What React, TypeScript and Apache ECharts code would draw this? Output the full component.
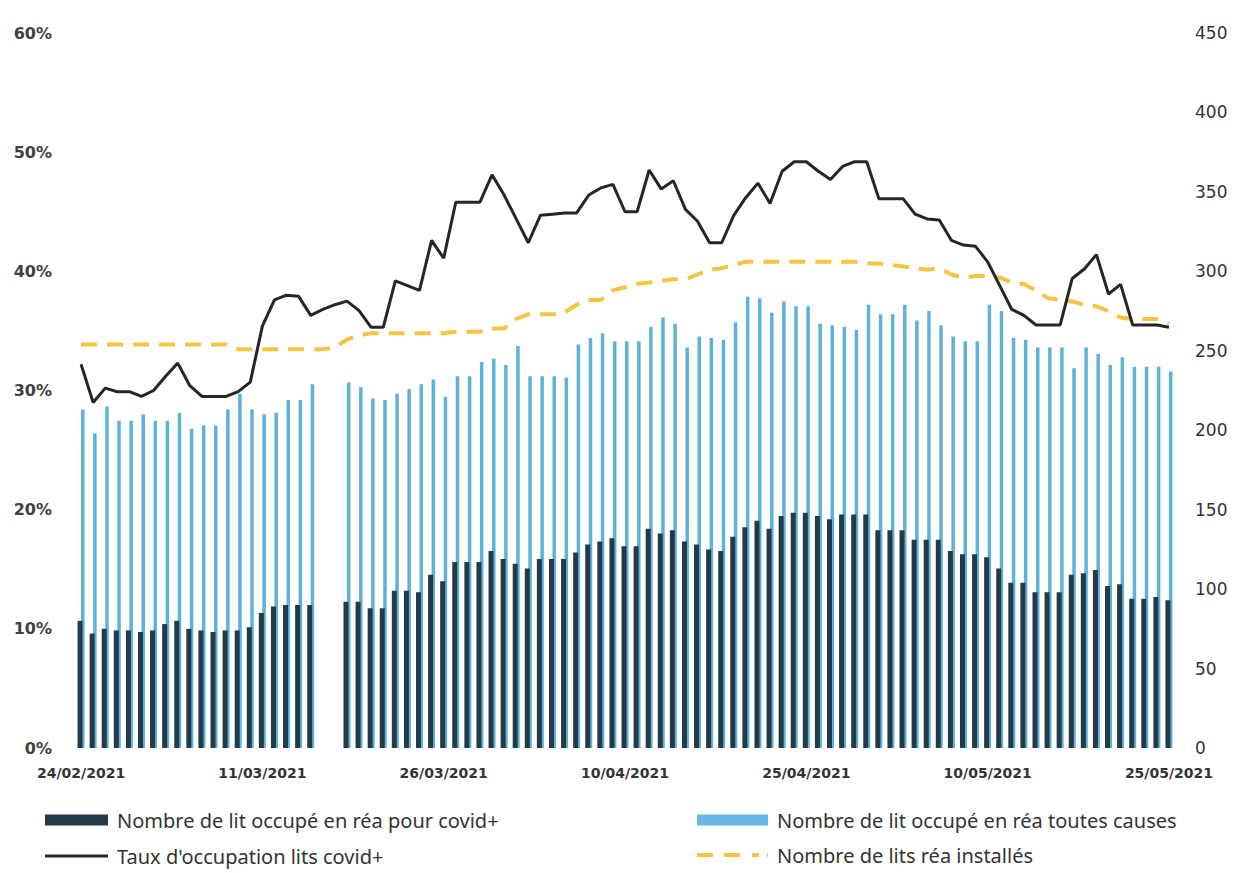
import { useEffect, useRef } from "react";
import * as echarts from "echarts";

// Categories: every day from 24/02/2021 to 25/05/2021 (91 days)
const startDay = Date.UTC(2021, 1, 24);
const categories: string[] = Array.from({ length: 91 }, (_, i) => {
  const d = new Date(startDay + i * 86400000);
  const dd = String(d.getUTCDate()).padStart(2, "0");
  const mm = String(d.getUTCMonth() + 1).padStart(2, "0");
  return `${dd}/${mm}/${d.getUTCFullYear()}`;
});

const covidName = "Nombre de lit occupé en réa pour covid+";
const allName = "Nombre de lit occupé en réa toutes causes";
const rateName = "Taux d'occupation lits covid+";
const installedName = "Nombre de lits réa installés";

// Beds occupied in ICU for covid+ (right axis)
const covidBeds: (number | null)[] = [
  80, 72, 75, 74, 74, 73, 74, 78, 80, 75,
  74, 73, 74, 74, 76, 85, 89, 90, 90, 90,
  null, null, 92, 92, 88, 88, 99, 99, 98, 109,
  105, 117, 117, 117, 124, 119, 116, 113, 119, 119,
  119, 123, 128, 130, 132, 127, 127, 138, 135, 137,
  130, 128, 125, 124, 133, 139, 143, 138, 146, 148,
  148, 146, 144, 147, 147, 147, 137, 137, 137, 131,
  131, 131, 124, 122, 122, 120, 113, 104, 104, 98,
  98, 98, 109, 110, 112, 102, 103, 94, 94, 95,
  93,
];

// Beds occupied in ICU, all causes (right axis)
const allBeds: (number | null)[] = [
  213, 198, 215, 206, 206, 210, 206, 206, 211, 201,
  203, 203, 213, 223, 213, 210, 211, 219, 219, 229,
  null, null, 230, 227, 220, 219, 223, 226, 229, 232,
  221, 234, 234, 243, 245, 241, 253, 234, 234, 234,
  233, 254, 258, 261, 256, 256, 256, 265, 271, 267,
  252, 259, 258, 257, 268, 284, 283, 274, 281, 278,
  278, 267, 266, 265, 263, 279, 273, 273, 279, 269,
  275, 266, 259, 256, 256, 279, 275, 258, 257, 252,
  252, 252, 239, 252, 248, 241, 246, 240, 240, 240,
  237,
];

// Occupancy rate of covid+ beds, % (left axis)
const occupancyRate: number[] = [
  32.2, 29.0, 30.2, 29.9, 29.9, 29.5, 30.0, 31.2, 32.3, 30.4,
  29.5, 29.5, 29.5, 29.9, 30.7, 35.4, 37.6, 38.0, 37.9, 36.3,
  36.8, 37.2, 37.5, 36.7, 35.3, 35.3, 39.2, 38.8, 38.4, 42.6,
  41.1, 45.8, 45.8, 45.8, 48.1, 46.4, 44.4, 42.4, 44.7, 44.8,
  44.9, 44.9, 46.4, 47.0, 47.3, 45.0, 45.0, 48.5, 46.9, 47.6,
  45.2, 44.2, 42.4, 42.4, 44.7, 46.2, 47.4, 45.7, 48.4, 49.2,
  49.2, 48.4, 47.7, 48.8, 49.2, 49.2, 46.1, 46.1, 46.1, 44.8,
  44.4, 44.3, 42.6, 42.2, 42.1, 40.8, 38.8, 36.8, 36.3, 35.5,
  35.5, 35.5, 39.4, 40.2, 41.4, 38.1, 38.9, 35.5, 35.5, 35.5,
  35.3,
];

// Installed ICU beds (right axis)
const installedBeds: number[] = [
  254, 254, 254, 254, 254, 254, 254, 254, 254, 254,
  254, 254, 254, 251, 251, 251, 251, 251, 251, 251,
  251, 252, 257, 260, 261, 261, 261, 261, 261, 261,
  261, 262, 262, 262, 264, 264, 270, 273, 273, 273,
  274, 279, 282, 282, 288, 290, 292, 293, 294, 295,
  295, 298, 301, 302, 304, 306, 306, 306, 306, 306,
  306, 306, 306, 306, 306, 305, 305, 304, 303, 302,
  301, 302, 298, 296, 297, 297, 296, 293, 292, 288,
  283, 282, 281, 279, 278, 275, 271, 270, 270, 270,
  267,
];

const leftTicks = { min: 0, max: 60, interval: 10 };
const rightTicks = { min: 0, max: 450, interval: 50 };

const legendText = {
  fontFamily: "Noto Sans",
  fontSize: 20,
  color: "#333333",
  padding: [0, 0, 0, 4],
};

const dashedIcon =
  "path://M0,0h16v4h-16zM27,0h16v4h-16zM55,0h7v4h-7zM70,0h1v4h-1z";

export default function App() {
  const ref = useRef<HTMLDivElement>(null);

  useEffect(() => {
    if (!ref.current) return;
    const chart = echarts.init(ref.current, undefined, { renderer: "svg" });
    chart.setOption({
      animation: false,
      backgroundColor: "#ffffff",
      grid: { left: 75, right: 73, top: 33, bottom: 125, containLabel: false },
      xAxis: {
        type: "category",
        data: categories,
        boundaryGap: true,
        axisLine: { show: false },
        axisTick: { show: false },
        axisLabel: {
          interval: 14,
          margin: 18,
          fontFamily: "DejaVu Sans",
          fontWeight: "bold",
          fontSize: 14,
          color: "#333333",
        },
      },
      yAxis: [
        {
          type: "value",
          position: "left",
          ...leftTicks,
          splitLine: { show: false },
          axisLine: { show: false },
          axisTick: { show: false },
          axisLabel: {
            formatter: "{value}%",
            margin: 23,
            fontFamily: "DejaVu Sans",
            fontWeight: "bold",
            fontSize: 16,
            color: "#404040",
            padding: [0, 0, 12, 0],
          },
        },
        {
          type: "value",
          position: "right",
          ...rightTicks,
          splitLine: { show: false },
          axisLine: { show: false },
          axisTick: { show: false },
          axisLabel: {
            margin: 20,
            fontFamily: "DejaVu Sans",
            fontSize: 17,
            color: "#333333",
            padding: [0, 0, 12, 0],
          },
        },
      ],
      legend: [
        {
          data: [{ name: covidName, icon: "rect" }],
          left: 45, top: 810, padding: 0,
          itemWidth: 63, itemHeight: 11,
          textStyle: legendText,
        },
        {
          data: [{ name: allName, icon: "rect", itemStyle: { color: "#6ab6e6" } }],
          left: 697, top: 810, padding: 0,
          itemWidth: 71, itemHeight: 11,
          textStyle: legendText,
        },
        {
          data: [{ name: rateName, icon: "rect" }],
          left: 45, top: 846, padding: 0,
          itemWidth: 63, itemHeight: 3,
          textStyle: legendText,
        },
        {
          data: [{ name: installedName, icon: dashedIcon }],
          left: 697, top: 845, padding: 0,
          itemWidth: 71, itemHeight: 4,
          textStyle: legendText,
        },
      ],
      series: [
        {
          name: covidName,
          type: "bar",
          yAxisIndex: 1,
          data: covidBeds,
          barWidth: 5,
          barGap: "-30%",
          itemStyle: { color: "#233a48" },
          z: 3,
        },
        {
          name: allName,
          type: "bar",
          yAxisIndex: 1,
          data: allBeds,
          barWidth: 3.5,
          barGap: "-30%",
          itemStyle: { color: "#5db2da" },
          z: 2,
        },
        {
          name: installedName,
          type: "line",
          yAxisIndex: 1,
          data: installedBeds,
          symbol: "none",
          lineStyle: { color: "#f6c343", width: 4, type: [16, 10] },
          itemStyle: { color: "#f6c343" },
          z: 4,
        },
        {
          name: rateName,
          type: "line",
          yAxisIndex: 0,
          data: occupancyRate,
          symbol: "none",
          lineStyle: { color: "#262626", width: 3 },
          itemStyle: { color: "#262626" },
          z: 5,
        },
      ],
    });
    return () => chart.dispose();
  }, []);

  return (
    <div
      ref={ref}
      style={{ position: "fixed", left: 0, top: 0, width: 1248, height: 873 }}
    />
  );
}
